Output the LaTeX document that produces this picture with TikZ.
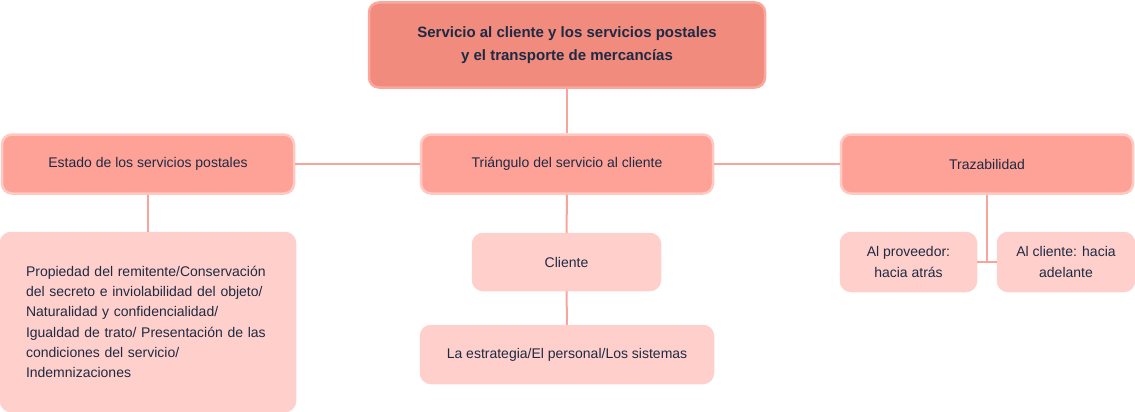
\documentclass[tikz,border=0pt]{standalone}
\usepackage{fontspec}
\setmainfont{Liberation Sans}
\begin{document}
\begin{tikzpicture}[x=1pt,y=-1pt,
  every node/.style={text=txt,font=\fontsize{14}{20.3}\selectfont},
  base/.style={rounded corners=10pt,line width=2.5pt,align=center,inner sep=0pt},
  topbox/.style={base,fill=topfill,draw=topline,font=\bfseries\fontsize{15}{22.5}\selectfont},
  midbox/.style={base,fill=midfill,draw=midline},
  leafbox/.style={base,fill=leaffill,draw=leaffill},
  link/.style={draw=linkc,line width=2pt}]
\definecolor{txt}{HTML}{1E2A44}
\definecolor{topfill}{HTML}{F08B7D}
\definecolor{topline}{HTML}{FBA79C}
\definecolor{midfill}{HTML}{FEA297}
\definecolor{midline}{HTML}{FFC8C1}
\definecolor{leaffill}{HTML}{FFD0CB}
\definecolor{linkc}{HTML}{F9A49A}
\useasboundingbox (0,0) rectangle (1135,412);
\node[topbox,minimum width=396,minimum height=85] (top) at (567,45) {Servicio al cliente y los servicios postales\\y el transporte de mercancías};
\node[midbox,minimum width=292,minimum height=59] (est) at (148,164) {Estado de los servicios postales};
\node[midbox,minimum width=292,minimum height=59] (tri) at (567,164) {Triángulo del servicio al cliente};
\node[midbox,minimum width=292,minimum height=59] (tra) at (987,164) {Trazabilidad};
\node[leafbox,minimum width=292,minimum height=178,align=left,text width=244,inner xsep=25pt] (prop) at (148,322) {Propiedad del remitente/Conservación\\del secreto e inviolabilidad del objeto/\\Naturalidad y confidencialidad/\\Igualdad de trato/ Presentación de las\\condiciones del servicio/\\Indemnizaciones};
\node[leafbox,minimum width=187,minimum height=56] (cli) at (566.5,262) {Cliente};
\node[leafbox,minimum width=292,minimum height=57] (estr) at (567,354.5) {La estrategia/El personal/Los sistemas};
\node[leafbox,minimum width=135,minimum height=58] (prov) at (908.5,262) {Al proveedor:\\hacia atrás};
\node[leafbox,minimum width=136,minimum height=58] (alc) at (1066,262) {Al cliente: hacia\\adelante};
\coordinate (j) at (tra.south |- prov.east);
\path[link] (top) -- (tri);
\path[link] (est) -- (tri);
\path[link] (tri) -- (tra);
\path[link] (est) -- (prop);
\path[link] (tri) -- (cli);
\path[link] (cli) -- (estr);
\path[link] (tra.south) -- (j);
\path[link] (prov) -- (alc);
\end{tikzpicture}
\end{document}
